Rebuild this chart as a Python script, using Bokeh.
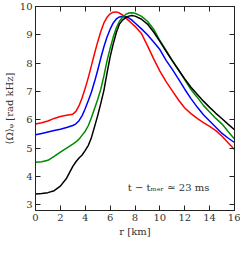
from bokeh.plotting import figure
from bokeh.models import LinearAxis, Range1d, Label
from bokeh.embed import file_html
from bokeh.resources import INLINE

r_km = [0, 0.5, 1, 1.5, 2, 2.5, 3,
        3.25, 3.5, 3.75, 4, 4.25, 4.5, 4.75, 5, 5.25, 5.5, 5.75, 6, 6.25, 6.5,
        6.75, 7, 7.25, 7.5, 7.75, 8,
        8.5, 9, 9.5, 10, 10.5, 11, 11.5, 12, 12.5, 13, 13.5, 14, 14.5, 15, 15.5, 16]

omega_black = [3.38, 3.40, 3.43, 3.50, 3.66, 3.94, 4.36,
               4.52, 4.65, 4.76, 4.92, 5.10, 5.38, 5.76, 6.15, 6.58, 7.04, 7.65, 8.22, 8.68, 9.08,
               9.38, 9.52, 9.61, 9.66, 9.68, 9.66,
               9.56, 9.38, 9.10, 8.77, 8.42, 8.08, 7.76, 7.44, 7.15, 6.90, 6.66, 6.44, 6.23, 6.04, 5.84, 5.65]

omega_green = [4.50, 4.52, 4.57, 4.71, 4.86, 5.00, 5.14,
               5.22, 5.32, 5.46, 5.60, 5.80, 6.08, 6.40, 6.72, 7.08, 7.55, 8.08, 8.52, 8.92, 9.25,
               9.48, 9.62, 9.72, 9.77, 9.78, 9.76,
               9.66, 9.48, 9.20, 8.80, 8.45, 8.10, 7.77, 7.42, 7.07, 6.80, 6.51, 6.28, 6.05, 5.85, 5.58, 5.32]

omega_blue = [5.47, 5.52, 5.57, 5.62, 5.67, 5.73, 5.80,
              5.86, 5.97, 6.15, 6.40, 6.68, 6.98, 7.35, 7.75, 8.18, 8.58, 8.92, 9.20, 9.42, 9.56,
              9.63, 9.65, 9.64, 9.60, 9.52, 9.42,
              9.22, 9.00, 8.75, 8.48, 8.10, 7.78, 7.44, 7.08, 6.75, 6.45, 6.18, 5.96, 5.74, 5.52, 5.35, 5.20]

omega_red = [5.85, 5.90, 5.96, 6.05, 6.12, 6.16, 6.20,
             6.30, 6.50, 6.78, 7.12, 7.50, 7.92, 8.35, 8.75, 9.12, 9.42, 9.62, 9.74, 9.80, 9.81,
             9.77, 9.70, 9.60, 9.50, 9.40, 9.30,
             9.06, 8.62, 8.15, 7.72, 7.35, 7.02, 6.70, 6.42, 6.22, 6.05, 5.90, 5.77, 5.62, 5.42, 5.18, 4.95]

series = [
    (omega_red, "#ff0000"),
    (omega_blue, "#0000ff"),
    (omega_green, "#008a00"),
    (omega_black, "#000000"),
]

x_ticks = [0, 2, 4, 6, 8, 10, 12, 14, 16]
y_ticks = [3, 4, 5, 6, 7, 8, 9, 10]

FONT = "DejaVu Serif"
TXT = "#333333"

p = figure(width=240, height=239, output_backend="svg", toolbar_location=None,
           x_range=Range1d(0, 16), y_range=Range1d(2.8, 10),
           min_border_right=6, min_border_top=6, min_border_left=2, min_border_bottom=2)
p.outline_line_color = "#222222"
p.xgrid.visible = False
p.ygrid.visible = False
p.background_fill_color = "white"

for vals, col in series:
    p.line(r_km, vals, line_color=col, line_width=1.5)

def style(ax, show_labels, nminor, ticks):
    ax.ticker = ticks
    ax.ticker.num_minor_ticks = nminor
    ax.major_tick_in = 5
    ax.major_tick_out = 0
    ax.minor_tick_in = 3
    ax.minor_tick_out = 0
    ax.axis_line_color = "#222222"
    ax.major_tick_line_color = "#222222"
    ax.minor_tick_line_color = "#222222"
    ax.major_label_text_font = FONT
    ax.major_label_text_font_size = "10px"
    ax.major_label_text_color = TXT
    ax.major_label_standoff = 3
    ax.axis_label_text_font = FONT
    ax.axis_label_text_font_size = "10px"
    ax.axis_label_text_font_style = "normal"
    ax.axis_label_text_color = TXT
    ax.axis_label_standoff = 2
    if not show_labels:
        ax.major_label_overrides = {t: "" for t in ticks}
        ax.major_label_standoff = 0

style(p.xaxis[0], True, 5, x_ticks)
style(p.yaxis[0], True, 4, y_ticks)
p.xaxis[0].axis_label = "r [km]"
p.yaxis[0].axis_label = "⟨Ω⟩ᵩ [rad kHz]"

top = LinearAxis()
style(top, False, 5, x_ticks)
p.add_layout(top, "above")
right = LinearAxis()
style(right, False, 4, y_ticks)
p.add_layout(right, "right")

p.add_layout(Label(x=10.7, y=3.6, text="t − tₘₑᵣ ≃ 23 ms", text_font=FONT,
                   text_font_size="10px", text_color=TXT,
                   text_align="center", text_baseline="middle"))

open("out.html", "w").write(file_html(p, INLINE))
